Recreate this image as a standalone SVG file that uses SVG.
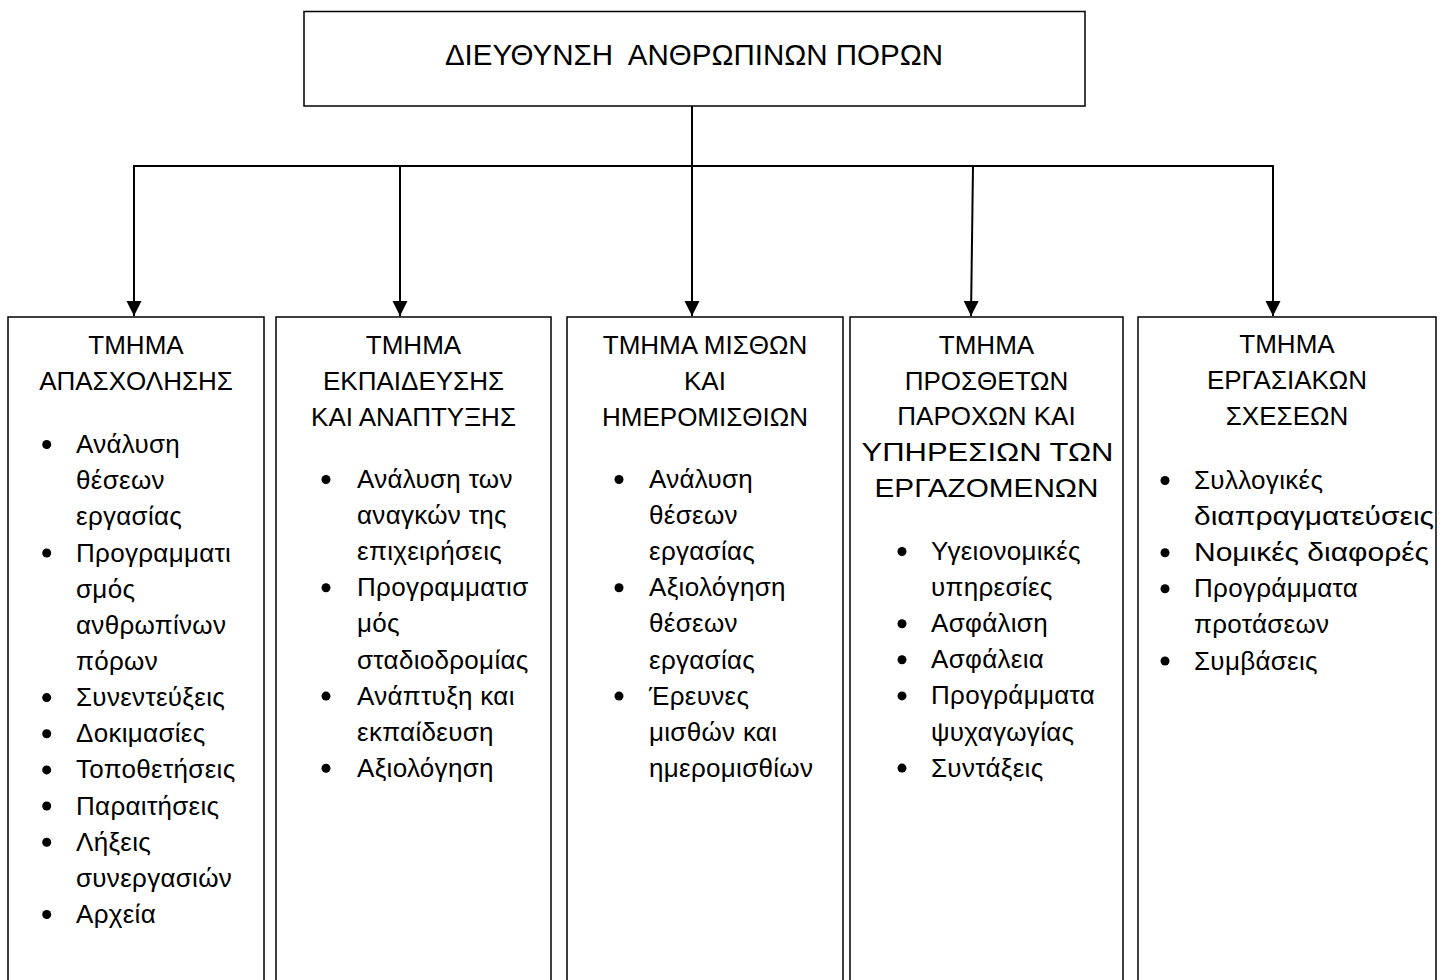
<svg xmlns="http://www.w3.org/2000/svg" width="1443" height="980" viewBox="0 0 1443 980">
<style>
  .box { fill: #fff; stroke: #000; stroke-width: 1.5; }
  .ln { fill: none; stroke: #000; stroke-width: 2; }
  .t { font-family: "Liberation Sans", Arial, sans-serif; font-size: 26px; fill: #000; }
  .i { letter-spacing: 0.3px; }
  .c { text-anchor: middle; }
  .title { font-family: "Liberation Sans", Arial, sans-serif; font-size: 29.5px; fill: #000; text-anchor: middle; white-space: pre; }
  .b { fill: #000; }
</style>
<defs>
  <marker id="ah" markerUnits="userSpaceOnUse" markerWidth="16" markerHeight="16" refX="15" refY="7.5" orient="auto">
    <path d="M0,0 L15,7.5 L0,15 Z" fill="#000"/>
  </marker>
</defs>

<g id="connectors">
  <line class="ln" x1="692" y1="106" x2="692" y2="166" stroke-width="1.5"/>
  <line class="ln" x1="133" y1="166" x2="1274" y2="166"/>
  <line class="ln" x1="134" y1="166" x2="134" y2="316" marker-end="url(#ah)"/>
  <line class="ln" x1="400" y1="166" x2="400" y2="316" marker-end="url(#ah)"/>
  <line class="ln" x1="692" y1="166" x2="692" y2="316" marker-end="url(#ah)"/>
  <line class="ln" x1="973" y1="166" x2="971" y2="316" marker-end="url(#ah)"/>
  <line class="ln" x1="1273" y1="166" x2="1273" y2="316" marker-end="url(#ah)"/>
</g>

<g id="top">
  <rect class="box" x="304" y="11.5" width="781" height="94.5"/>
  <text class="title" x="694" y="65" xml:space="preserve">ΔΙΕΥΘΥΝΣΗ  ΑΝΘΡΩΠΙΝΩΝ ΠΟΡΩΝ</text>
</g>

<g id="dept1">
  <rect class="box" x="8" y="317" width="256" height="700"/>
  <text class="t c" x="136" y="354">ΤΜΗΜΑ</text>
  <text class="t c" x="136" y="390">ΑΠΑΣΧΟΛΗΣΗΣ</text>
  <g class="b">
    <circle cx="46.7" cy="444.5" r="4.5"/>
    <circle cx="46.7" cy="553" r="4.5"/>
    <circle cx="46.7" cy="697.6" r="4.5"/>
    <circle cx="46.7" cy="733.7" r="4.5"/>
    <circle cx="46.7" cy="769.9" r="4.5"/>
    <circle cx="46.7" cy="806" r="4.5"/>
    <circle cx="46.7" cy="842.2" r="4.5"/>
    <circle cx="46.7" cy="914.5" r="4.5"/>
  </g>
  <text class="t i" x="76" y="453">Ανάλυση</text>
  <text class="t i" x="76" y="489.2">θέσεων</text>
  <text class="t i" x="76" y="525.3">εργασίας</text>
  <text class="t i" x="76" y="561.5">Προγραμματι</text>
  <text class="t i" x="76" y="597.6">σμός</text>
  <text class="t i" x="76" y="633.8">ανθρωπίνων</text>
  <text class="t i" x="76" y="669.9">πόρων</text>
  <text class="t i" x="76" y="706.1">Συνεντεύξεις</text>
  <text class="t i" x="76" y="742.2">Δοκιμασίες</text>
  <text class="t i" x="76" y="778.4">Τοποθετήσεις</text>
  <text class="t i" x="76" y="814.5">Παραιτήσεις</text>
  <text class="t i" x="76" y="850.7">Λήξεις</text>
  <text class="t i" x="76" y="886.8">συνεργασιών</text>
  <text class="t i" x="76" y="923">Αρχεία</text>
</g>

<g id="dept2">
  <rect class="box" x="276" y="317" width="275" height="700"/>
  <text class="t c" x="413.5" y="354">ΤΜΗΜΑ</text>
  <text class="t c" x="413.5" y="390">ΕΚΠΑΙΔΕΥΣΗΣ</text>
  <text class="t c" x="413.5" y="426">ΚΑΙ ΑΝΑΠΤΥΞΗΣ</text>
  <g class="b">
    <circle cx="326" cy="479.5" r="4.5"/>
    <circle cx="326" cy="587.8" r="4.5"/>
    <circle cx="326" cy="696.1" r="4.5"/>
    <circle cx="326" cy="768.3" r="4.5"/>
  </g>
  <text class="t i" x="357" y="488">Ανάλυση των</text>
  <text class="t i" x="357" y="524.1">αναγκών της</text>
  <text class="t i" x="357" y="560.2">επιχειρήσεις</text>
  <text class="t i" x="357" y="596.3">Προγραμματισ</text>
  <text class="t i" x="357" y="632.4">μός</text>
  <text class="t i" x="357" y="668.5">σταδιοδρομίας</text>
  <text class="t i" x="357" y="704.6">Ανάπτυξη και</text>
  <text class="t i" x="357" y="740.7">εκπαίδευση</text>
  <text class="t i" x="357" y="776.8">Αξιολόγηση</text>
</g>

<g id="dept3">
  <rect class="box" x="567" y="317" width="276" height="700"/>
  <text class="t c" x="705" y="354">ΤΜΗΜΑ ΜΙΣΘΩΝ</text>
  <text class="t c" x="705" y="390">ΚΑΙ</text>
  <text class="t c" x="705" y="426">ΗΜΕΡΟΜΙΣΘΙΩΝ</text>
  <g class="b">
    <circle cx="619" cy="479.5" r="4.5"/>
    <circle cx="619" cy="587.8" r="4.5"/>
    <circle cx="619" cy="696.1" r="4.5"/>
  </g>
  <text class="t i" x="649" y="488">Ανάλυση</text>
  <text class="t i" x="649" y="524.1">θέσεων</text>
  <text class="t i" x="649" y="560.2">εργασίας</text>
  <text class="t i" x="649" y="596.3">Αξιολόγηση</text>
  <text class="t i" x="649" y="632.4">θέσεων</text>
  <text class="t i" x="649" y="668.5">εργασίας</text>
  <text class="t i" x="649" y="704.6">Έρευνες</text>
  <text class="t i" x="649" y="740.7">μισθών και</text>
  <text class="t i" x="649" y="776.8">ημερομισθίων</text>
</g>

<g id="dept4">
  <rect class="box" x="850" y="317" width="273" height="700"/>
  <text class="t c" x="986.5" y="353.5">ΤΜΗΜΑ</text>
  <text class="t c" x="986.5" y="389.5">ΠΡΟΣΘΕΤΩΝ</text>
  <text class="t c" x="986.5" y="425.3">ΠΑΡΟΧΩΝ ΚΑΙ</text>
  <text class="t c" x="987.5" y="461.1" textLength="252" lengthAdjust="spacingAndGlyphs">ΥΠΗΡΕΣΙΩΝ ΤΩΝ</text>
  <text class="t c" x="986.5" y="496.9" textLength="224" lengthAdjust="spacingAndGlyphs">ΕΡΓΑΖΟΜΕΝΩΝ</text>
  <g class="b">
    <circle cx="902" cy="551.5" r="4.5"/>
    <circle cx="902" cy="623.7" r="4.5"/>
    <circle cx="902" cy="659.8" r="4.5"/>
    <circle cx="902" cy="695.9" r="4.5"/>
    <circle cx="902" cy="768.1" r="4.5"/>
  </g>
  <text class="t i" x="931" y="560">Υγειονομικές</text>
  <text class="t i" x="931" y="596.1">υπηρεσίες</text>
  <text class="t i" x="931" y="632.2">Ασφάλιση</text>
  <text class="t i" x="931" y="668.3">Ασφάλεια</text>
  <text class="t i" x="931" y="704.4">Προγράμματα</text>
  <text class="t i" x="931" y="740.5">ψυχαγωγίας</text>
  <text class="t i" x="931" y="776.6">Συντάξεις</text>
</g>

<g id="dept5">
  <rect class="box" x="1138" y="317" width="298" height="700"/>
  <text class="t c" x="1287" y="353">ΤΜΗΜΑ</text>
  <text class="t c" x="1287" y="389">ΕΡΓΑΣΙΑΚΩΝ</text>
  <text class="t c" x="1287" y="424.5">ΣΧΕΣΕΩΝ</text>
  <g class="b">
    <circle cx="1165" cy="480.5" r="4.5"/>
    <circle cx="1165" cy="552.7" r="4.5"/>
    <circle cx="1165" cy="588.8" r="4.5"/>
    <circle cx="1165" cy="661" r="4.5"/>
  </g>
  <text class="t i" x="1194" y="489">Συλλογικές</text>
  <text class="t" x="1194" y="525.1" textLength="240" lengthAdjust="spacingAndGlyphs">διαπραγματεύσεις</text>
  <text class="t" x="1194" y="561.2" textLength="235" lengthAdjust="spacingAndGlyphs">Νομικές διαφορές</text>
  <text class="t i" x="1194" y="597.3">Προγράμματα</text>
  <text class="t i" x="1194" y="633.4">προτάσεων</text>
  <text class="t i" x="1194" y="669.5">Συμβάσεις</text>
</g>
</svg>
